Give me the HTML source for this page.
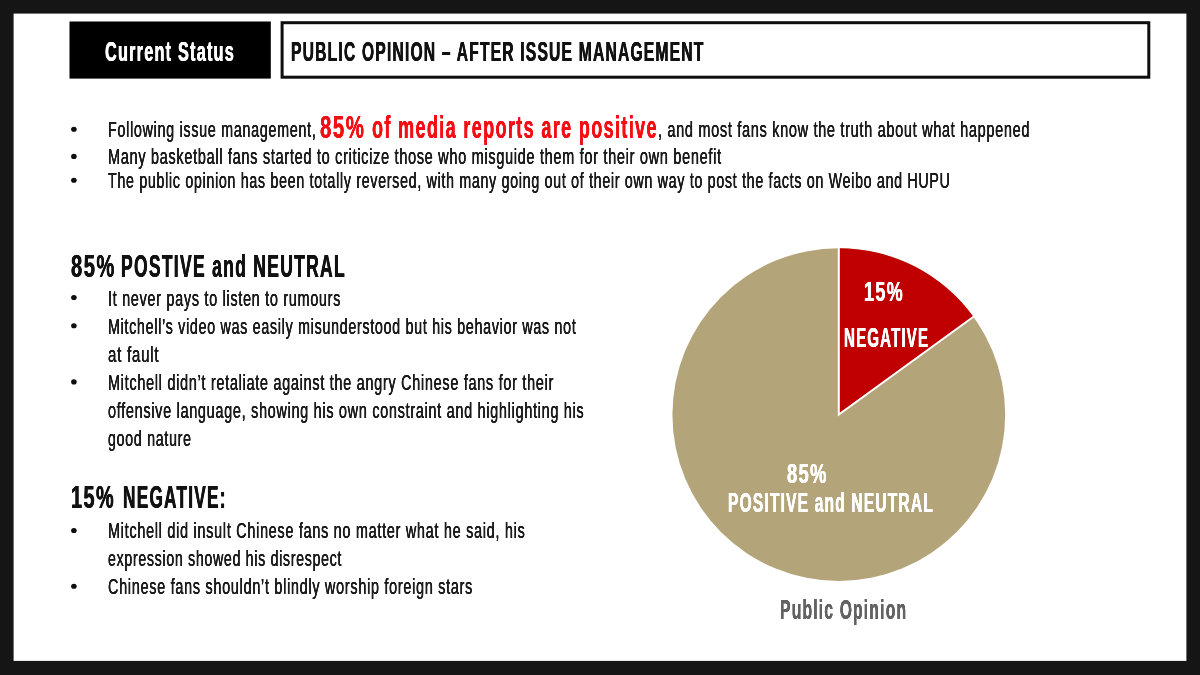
<!DOCTYPE html>
<html lang="en">
<head>
<meta charset="utf-8">
<title>Public Opinion – After Issue Management</title>
<style>
html,body{margin:0;padding:0;}
body{width:1200px;height:675px;overflow:hidden;background:#151515;position:relative;font-family:"Liberation Sans",sans-serif;}
.t{position:absolute;white-space:pre;transform-origin:0 0;line-height:1;margin:0;padding:0;filter:blur(0.35px);}
svg.pie{position:absolute;left:0;top:0;}
</style>
</head>
<body>
<svg class="pie" width="1200" height="675" viewBox="0 0 1200 675">
<rect x="13.6" y="13.6" width="1172.8" height="647.3" fill="#fff"/>
<rect x="69.5" y="21.5" width="201.3" height="57.1" fill="#000"/>
<rect x="282.1" y="22.7" width="866.7" height="54.5" fill="#fff" stroke="#0e0e0e" stroke-width="3"/>
<circle cx="838.8" cy="414.6" r="166.4" fill="#b3a47a"/>
<path d="M838.8 414.6 L838.8 248.20 A166.4 166.4 0 0 1 973.42 316.79 Z" fill="#c00000"/>
<path d="M838.8 247.70 L838.8 414.6 L973.82 316.49" fill="none" stroke="#fff" stroke-width="2" stroke-linejoin="miter"/>
<ellipse cx="73.9" cy="129.3" rx="2.8" ry="2.55" fill="#0d0d0d"/>
<ellipse cx="73.9" cy="156.4" rx="2.8" ry="2.55" fill="#0d0d0d"/>
<ellipse cx="73.9" cy="180.3" rx="2.8" ry="2.55" fill="#0d0d0d"/>
<ellipse cx="73.9" cy="297.5" rx="2.8" ry="2.55" fill="#0d0d0d"/>
<ellipse cx="73.9" cy="325.7" rx="2.8" ry="2.55" fill="#0d0d0d"/>
<ellipse cx="73.9" cy="381.9" rx="2.8" ry="2.55" fill="#0d0d0d"/>
<ellipse cx="73.9" cy="530.5" rx="2.8" ry="2.55" fill="#0d0d0d"/>
<ellipse cx="73.9" cy="586.2" rx="2.8" ry="2.55" fill="#0d0d0d"/>
</svg>
<div class="t" style="left:105.00px;top:38.00px;font-size:28.0px;font-weight:700;letter-spacing:2.1px;color:#fff;transform:scaleX(0.5805) skewX(0.08deg);text-shadow:0.38px 0 0 #fff,-0.38px 0 0 #fff">Current Status</div>
<div class="t" style="left:291.40px;top:38.00px;font-size:27.4px;font-weight:700;letter-spacing:2.05px;color:#111;transform:scaleX(0.5722) skewX(0.08deg);text-shadow:0.35px 0 0 #111,-0.35px 0 0 #111">PUBLIC OPINION – AFTER ISSUE MANAGEMENT</div>
<div class="t" style="left:108.20px;top:119.00px;font-size:22.4px;font-weight:400;letter-spacing:1.12px;color:#1a1a1a;transform:scaleX(0.6387) skewX(0.08deg);text-shadow:0.19px 0 0 #1a1a1a,-0.19px 0 0 #1a1a1a">Following issue management,</div>
<div class="t" style="left:320.30px;top:112.00px;font-size:31.0px;font-weight:700;letter-spacing:2.32px;color:#f40e14;transform:scaleX(0.6582) skewX(0.08deg);text-shadow:0.12px 0 0 #f40e14,-0.12px 0 0 #f40e14">85%</div>
<div class="t" style="left:371.50px;top:112.00px;font-size:31.0px;font-weight:700;letter-spacing:2.32px;color:#f40e14;transform:scaleX(0.5821) skewX(0.08deg);text-shadow:0.14px 0 0 #f40e14,-0.14px 0 0 #f40e14">of media reports are positive</div>
<div class="t" style="left:657.80px;top:119.00px;font-size:22.4px;font-weight:400;letter-spacing:1.12px;color:#1a1a1a;transform:scaleX(0.6444) skewX(0.08deg);text-shadow:0.19px 0 0 #1a1a1a,-0.19px 0 0 #1a1a1a">, and most fans know the truth about what happened</div>
<div class="t" style="left:108.20px;top:146.00px;font-size:22.4px;font-weight:400;letter-spacing:1.12px;color:#1a1a1a;transform:scaleX(0.6453) skewX(0.08deg);text-shadow:0.19px 0 0 #1a1a1a,-0.19px 0 0 #1a1a1a">Many basketball fans started to criticize those who misguide them for their own benefit</div>
<div class="t" style="left:108.20px;top:170.00px;font-size:22.4px;font-weight:400;letter-spacing:1.12px;color:#1a1a1a;transform:scaleX(0.6345) skewX(0.08deg);text-shadow:0.19px 0 0 #1a1a1a,-0.19px 0 0 #1a1a1a">The public opinion has been totally reversed, with many going out of their own way to post the facts on Weibo and HUPU</div>
<div class="t" style="left:70.60px;top:251.00px;font-size:31.2px;font-weight:700;letter-spacing:2.34px;color:#111;transform:scaleX(0.6452) skewX(0.08deg);text-shadow:0.34px 0 0 #111,-0.34px 0 0 #111">85%</div>
<div class="t" style="left:121.30px;top:251.00px;font-size:31.2px;font-weight:700;letter-spacing:2.34px;color:#111;transform:scaleX(0.5605) skewX(0.08deg);text-shadow:0.39px 0 0 #111,-0.39px 0 0 #111">POSTIVE and NEUTRAL</div>
<div class="t" style="left:108.20px;top:288.00px;font-size:22.4px;font-weight:400;letter-spacing:1.12px;color:#1a1a1a;transform:scaleX(0.6424) skewX(0.08deg);text-shadow:0.19px 0 0 #1a1a1a,-0.19px 0 0 #1a1a1a">It never pays to listen to rumours</div>
<div class="t" style="left:108.20px;top:316.00px;font-size:22.4px;font-weight:400;letter-spacing:1.12px;color:#1a1a1a;transform:scaleX(0.6368) skewX(0.08deg);text-shadow:0.19px 0 0 #1a1a1a,-0.19px 0 0 #1a1a1a">Mitchell’s video was easily misunderstood but his behavior was not</div>
<div class="t" style="left:108.20px;top:344.00px;font-size:22.4px;font-weight:400;letter-spacing:1.12px;color:#1a1a1a;transform:scaleX(0.6727) skewX(0.08deg);text-shadow:0.18px 0 0 #1a1a1a,-0.18px 0 0 #1a1a1a">at fault</div>
<div class="t" style="left:108.20px;top:372.00px;font-size:22.4px;font-weight:400;letter-spacing:1.12px;color:#1a1a1a;transform:scaleX(0.6441) skewX(0.08deg);text-shadow:0.19px 0 0 #1a1a1a,-0.19px 0 0 #1a1a1a">Mitchell didn’t retaliate against the angry Chinese fans for their</div>
<div class="t" style="left:108.20px;top:400.00px;font-size:22.4px;font-weight:400;letter-spacing:1.12px;color:#1a1a1a;transform:scaleX(0.6433) skewX(0.08deg);text-shadow:0.19px 0 0 #1a1a1a,-0.19px 0 0 #1a1a1a">offensive language, showing his own constraint and highlighting his</div>
<div class="t" style="left:108.20px;top:428.00px;font-size:22.4px;font-weight:400;letter-spacing:1.12px;color:#1a1a1a;transform:scaleX(0.6349) skewX(0.08deg);text-shadow:0.19px 0 0 #1a1a1a,-0.19px 0 0 #1a1a1a">good nature</div>
<div class="t" style="left:71.20px;top:482.00px;font-size:31.2px;font-weight:700;letter-spacing:2.34px;color:#111;transform:scaleX(0.6362) skewX(0.08deg);text-shadow:0.35px 0 0 #111,-0.35px 0 0 #111">15%</div>
<div class="t" style="left:122.50px;top:482.00px;font-size:31.2px;font-weight:700;letter-spacing:2.34px;color:#111;transform:scaleX(0.5504) skewX(0.08deg);text-shadow:0.40px 0 0 #111,-0.40px 0 0 #111">NEGATIVE:</div>
<div class="t" style="left:108.20px;top:520.00px;font-size:22.4px;font-weight:400;letter-spacing:1.12px;color:#1a1a1a;transform:scaleX(0.6439) skewX(0.08deg);text-shadow:0.19px 0 0 #1a1a1a,-0.19px 0 0 #1a1a1a">Mitchell did insult Chinese fans no matter what he said, his</div>
<div class="t" style="left:108.20px;top:548.00px;font-size:22.4px;font-weight:400;letter-spacing:1.12px;color:#1a1a1a;transform:scaleX(0.6316) skewX(0.08deg);text-shadow:0.19px 0 0 #1a1a1a,-0.19px 0 0 #1a1a1a">expression showed his disrespect</div>
<div class="t" style="left:108.20px;top:576.00px;font-size:22.4px;font-weight:400;letter-spacing:1.12px;color:#1a1a1a;transform:scaleX(0.6435) skewX(0.08deg);text-shadow:0.19px 0 0 #1a1a1a,-0.19px 0 0 #1a1a1a">Chinese fans shouldn’t blindly worship foreign stars</div>
<div class="t" style="left:863.50px;top:278.00px;font-size:27.3px;font-weight:700;letter-spacing:2.05px;color:#fff;transform:scaleX(0.6588) skewX(0.08deg);text-shadow:0.23px 0 0 #fff,-0.23px 0 0 #fff">15%</div>
<div class="t" style="left:844.00px;top:324.00px;font-size:27.3px;font-weight:700;letter-spacing:2.05px;color:#fff;transform:scaleX(0.5531) skewX(0.08deg);text-shadow:0.27px 0 0 #fff,-0.27px 0 0 #fff">NEGATIVE</div>
<div class="t" style="left:787.00px;top:460.00px;font-size:27.3px;font-weight:700;letter-spacing:2.05px;color:#fff;transform:scaleX(0.6707) skewX(0.08deg);text-shadow:0.22px 0 0 #fff,-0.22px 0 0 #fff">85%</div>
<div class="t" style="left:727.60px;top:489.00px;font-size:27.3px;font-weight:700;letter-spacing:2.05px;color:#fff;transform:scaleX(0.5705) skewX(0.08deg);text-shadow:0.26px 0 0 #fff,-0.26px 0 0 #fff">POSITIVE and NEUTRAL</div>
<div class="t" style="left:780.00px;top:596.00px;font-size:28.0px;font-weight:700;letter-spacing:2.1px;color:#626262;transform:scaleX(0.5604) skewX(0.08deg);text-shadow:0.00px 0 0 #626262,-0.00px 0 0 #626262">Public Opinion</div>
</body>
</html>
